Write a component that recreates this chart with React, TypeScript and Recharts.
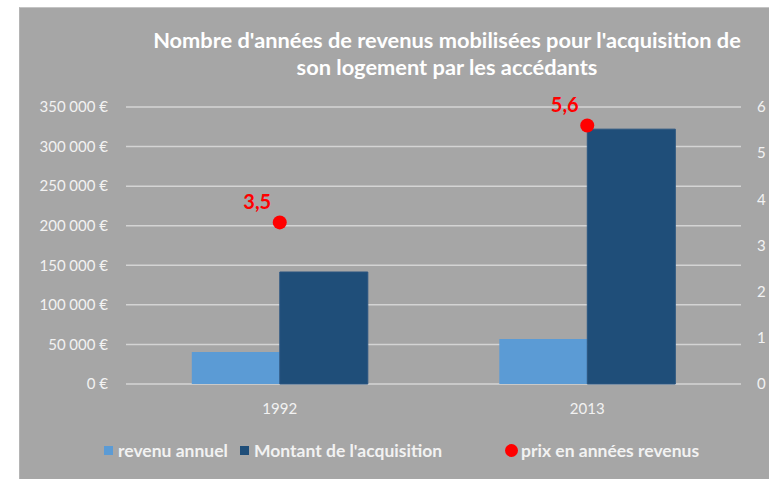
import React from "react";
import { ComposedChart, Bar, Scatter, XAxis, YAxis, CartesianGrid, Legend, LabelList } from "recharts";

const years = ["1992", "2013"];
const revenuAnnuel = [40500, 57000];
const montantAcquisition = [141500, 322000];
const prixAnnees = [3.5, 5.6];
const leftTicks = [0, 50000, 100000, 150000, 200000, 250000, 300000, 350000];
const rightTicks = [0, 1, 2, 3, 4, 5, 6];

const chartData = years.map((y, i) => ({
  year: y,
  revenu: revenuAnnuel[i],
  montant: montantAcquisition[i],
  prix: prixAnnees[i],
}));

const FONT = "Lato, 'Open Sans', sans-serif";
const TXT = "#f2f2f2";

const fmtEuro = (v: number) =>
  v === 0 ? "0 €" : `${Math.floor(v / 1000)}\u202F${String(v % 1000).padStart(3, "0")} €`;

const PointLabel = (props: any) => {
  const { x, y, value } = props;
  return (
    <text x={x - 4} y={y - 9} textAnchor="end" fill="#ff0000" fontSize={20} fontWeight={700} fontFamily={FONT}>
      {String(value).replace(".", ",")}
    </text>
  );
};

const RedDot = (props: any) => {
  const { cx, cy } = props;
  return <circle cx={cx} cy={cy} r={7} fill="#ff0000" />;
};

// legend entries, left offsets inside the gray panel
const legendItems = [
  { label: "revenu annuel", color: "#5b9bd5", shape: "square", left: 85 },
  { label: "Montant de l'acquisition", color: "#1f4e79", shape: "square", left: 221 },
  { label: "prix en années revenus", color: "#ff0000", shape: "circle", left: 486 },
];

const renderLegend = () => (
  <div style={{ position: "relative", height: 22, fontFamily: FONT, fontSize: 17.5, fontWeight: 700, color: TXT }}>
    {legendItems.map((it) => (
      <div
        key={it.label}
        style={{ position: "absolute", left: it.left, top: 0, display: "flex", alignItems: "center", whiteSpace: "nowrap" }}
      >
        <span
          style={{
            display: "inline-block",
            width: it.shape === "circle" ? 13 : 9,
            height: it.shape === "circle" ? 13 : 9,
            borderRadius: it.shape === "circle" ? "50%" : 0,
            background: it.color,
            marginRight: it.shape === "circle" ? 3 : 5,
          }}
        />
        <span>{it.label}</span>
      </div>
    ))}
  </div>
);

export default function App() {
  return (
    <div style={{ position: "absolute", left: 0, top: 0, width: 769, height: 479, background: "#fff" }}>
      <div
        style={{
          position: "absolute",
          left: 19,
          top: 7,
          width: 750,
          height: 472,
          background: "#a6a6a6",
          borderTop: "1px solid #c4c4c4",
          borderLeft: "1px solid #b4b4b4",
          boxSizing: "border-box",
        }}
      >
        <div
          style={{
            position: "absolute",
            left: 0,
            top: 18,
            width: 750,
            paddingLeft: 104,
            boxSizing: "border-box",
            textAlign: "center",
            fontFamily: FONT,
            fontWeight: 700,
            fontSize: 21.8,
            lineHeight: "27px",
            color: "#fff",
          }}
        >
          Nombre d'années de revenus mobilisées pour l'acquisition de
          <br />
          son logement par les accédants
        </div>
        <div style={{ position: "absolute", left: -1, top: -1 }}>
          <ComposedChart
            width={750}
            height={472}
            data={chartData}
            margin={{ top: 100, right: 0, bottom: 33, left: 0 }}
            barCategoryGap="21.4%"
            barGap={0}
          >
            <CartesianGrid vertical={false} stroke="#d4d4d4" strokeWidth={1.5} yAxisId="left" />
            <XAxis
              dataKey="year"
              axisLine={false}
              tickLine={false}
              tickSize={0}
              tickMargin={19}
              height={40}
              tick={{ fill: TXT, fontSize: 15, fontFamily: FONT }}
            />
            <YAxis
              yAxisId="left"
              domain={[0, 350000]}
              ticks={leftTicks}
              width={107}
              axisLine={false}
              tickLine={false}
              tickSize={0}
              tickMargin={18}
              tickFormatter={fmtEuro}
              tick={{ fill: TXT, fontSize: 15, fontFamily: FONT }}
            />
            <YAxis
              yAxisId="right"
              orientation="right"
              domain={[0, 6]}
              ticks={rightTicks}
              width={28}
              axisLine={false}
              tickLine={false}
              tickSize={0}
              tickMargin={16}
              tick={{ fill: TXT, fontSize: 15, fontFamily: FONT, textAnchor: "start" }}
            />
            <Bar yAxisId="left" dataKey="revenu" fill="#5b9bd5" isAnimationActive={false} />
            <Bar yAxisId="left" dataKey="montant" fill="#1f4e79" stroke="#2a5580" isAnimationActive={false} />
            <Scatter yAxisId="right" dataKey="prix" shape={<RedDot />} isAnimationActive={false}>
              <LabelList dataKey="prix" content={<PointLabel />} />
            </Scatter>
            <Legend verticalAlign="bottom" wrapperStyle={{ bottom: 17, left: 0, width: 750 }} content={renderLegend} />
          </ComposedChart>
        </div>
      </div>
    </div>
  );
}
